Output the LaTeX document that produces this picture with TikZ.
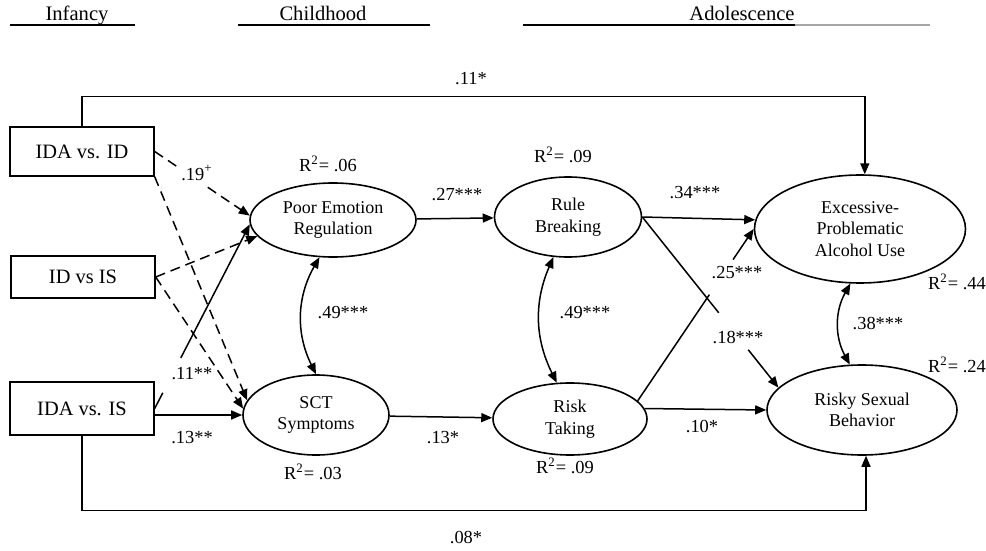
\documentclass[tikz,border=0pt]{standalone}
\usepackage{fontspec}
\setmainfont{Liberation Serif}
\usetikzlibrary{arrows.meta,shapes.geometric,calc}
\tikzstyle{box} = [rectangle, draw=black, line width=0.7pt, minimum width=72pt, inner sep=0pt, font=\fontsize{10.2}{12}\selectfont]
\tikzstyle{latent} = [ellipse, draw=black, line width=0.8pt, inner sep=0pt, align=center, font=\fontsize{9}{10.8}\selectfont]
\tikzstyle{arrow} = [line width=0.75pt, -{Triangle[length=5.5pt,width=4.5pt]}]
\tikzstyle{both} = [line width=0.75pt, {Triangle[length=5.5pt,width=4.5pt]}-{Triangle[length=5.5pt,width=4.5pt]}]
\tikzstyle{dasharrow} = [arrow, dash pattern=on 5pt off 3pt]
\tikzstyle{coef} = [font=\fontsize{9.2}{11}\selectfont, inner sep=0pt]
\tikzstyle{cut} = [sloped, fill=white, inner sep=0pt, minimum height=2.5pt]
\tikzstyle{period} = [font=\fontsize{10.3}{12}\selectfont, anchor=base, inner sep=0pt]

\begin{document}
\begin{tikzpicture}[x=0.5pt, y=-0.5pt]
\useasboundingbox (0,0) rectangle (986,551);

\node (inf) [period] at (77,21) {Infancy};
\node (chi) [period] at (323,21) {Childhood};
\node (ado) [period] at (742,21) {Adolescence};
\draw [line width=1pt] (10,25) -- (135,25);
\draw [line width=1pt] (238,25) -- (430,25);
\draw [line width=1pt] (523,25) -- (795,25);
\draw [line width=0.7pt, gray!70] (795,25) -- (930,25);

\node (ida1) [box, minimum height=24.5pt] at (82,151.5) {IDA vs. ID};
\node (idis) [box, minimum height=21pt] at (83,277) {ID vs IS};
\node (ida2) [box, minimum height=26.5pt] at (82,408.5) {IDA vs. IS};

\node (per) [latent, minimum width=83pt, minimum height=37pt] at (333,220) {Poor Emotion\\Regulation};
\node (sct) [latent, minimum width=73pt, minimum height=40pt] at (316,415) {SCT\\Symptoms};
\node (rule) [latent, minimum width=73.5pt, minimum height=40pt] at (568,217) {Rule\\Breaking};
\node (risk) [latent, minimum width=77pt, minimum height=36pt] at (570,419) {Risk\\Taking};
\node (alc) [latent, minimum width=105.5pt, minimum height=54pt] at (860,229) {Excessive-\\Problematic\\Alcohol Use};
\node (sex) [latent, minimum width=95pt, minimum height=45pt] at (862,410) {Risky Sexual\\Behavior};

\draw [arrow] (ida1.north) -- ++(0,-30) -| (alc.85);
\draw [arrow] (ida2.south) -- ++(0,75) -| (sex.-85);
\draw [dasharrow] (ida1.east) -- node (g1) [cut, pos=.39, minimum width=17pt] {} (per.177);
\draw [dasharrow] (ida1.south east) -- (sct.168);
\draw [dasharrow] (idis.east) -- (per.192);
\draw [dasharrow] (idis.east) -- (sct.175);
\draw [arrow] (ida2.east) -- node (g2) [cut, pos=.18, minimum width=19.5pt] {} (per.183);
\draw [arrow] (ida2.east |- sct.west) -- (sct.west);
\draw [arrow] (per) -- (rule);
\draw [arrow] (sct) -- (risk);
\draw [arrow] (rule.east) -- (alc.175);
\draw [arrow] (rule.east) -- node (g3) [cut, pos=.67, minimum width=23.5pt] {} (sex.165);
\draw [arrow] (risk.15) -- node (g4) [cut, pos=.72, minimum width=21pt] {} (alc.west);
\draw [arrow] (risk.8) -- (sex.west);
\draw [both] (per.250) to[bend right=28] (sct.north);
\draw [both] (rule.250) to[bend right=25] (risk.110);
\draw [both] (alc.260) to[bend right=29] (sex.105);

\node (c1) [coef] at (471,79) {.11*};
\node (c2) [coef] at (466,538) {.08*};
\node (c3) [coef] at (197,173) {.19\textsuperscript{+}};
\node (c4) [coef] at (192,374) {.11**};
\node (c5) [coef] at (192,438) {.13**};
\node (c6) [coef] at (457,195) {.27***};
\node (c7) [coef] at (343,313) {.49***};
\node (c8) [coef] at (443,438) {.13*};
\node (c9) [coef] at (585,313) {.49***};
\node (c10) [coef] at (695,193) {.34***};
\node (c11) [coef] at (737,273) {.25***};
\node (c12) [coef] at (738,338) {.18***};
\node (c13) [coef] at (702,427) {.10*};
\node (c14) [coef] at (878,324) {.38***};

\node (r1) [coef] at (328,164) {R\textsuperscript{2}= .06};
\node (r2) [coef] at (313,472) {R\textsuperscript{2}= .03};
\node (r3) [coef] at (563,155) {R\textsuperscript{2}= .09};
\node (r4) [coef] at (565,466) {R\textsuperscript{2}= .09};
\node (r5) [coef] at (957,282) {R\textsuperscript{2}= .44};
\node (r6) [coef] at (957,365) {R\textsuperscript{2}= .24};
\end{tikzpicture}
\end{document}
